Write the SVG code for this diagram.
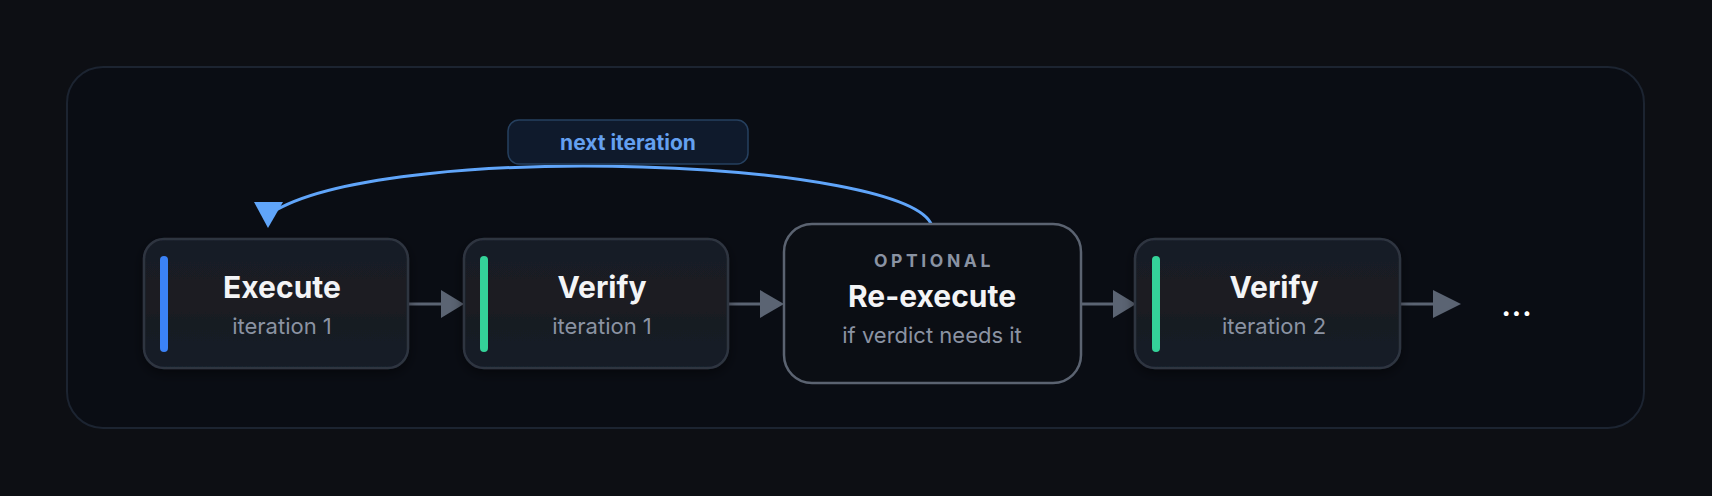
<svg xmlns="http://www.w3.org/2000/svg" width="1712" height="496" viewBox="0 0 1712 496">
  <defs>
    <linearGradient id="nodeFill" x1="0" y1="0" x2="0" y2="1">
      <stop offset="0" stop-color="#181d27"/>
      <stop offset="0.5" stop-color="#1b1a22"/>
      <stop offset="1" stop-color="#131a27"/>
    </linearGradient>
    <filter id="shadow" x="-20%" y="-20%" width="140%" height="150%">
      <feDropShadow dx="0" dy="4" stdDeviation="6" flood-color="#000000" flood-opacity="0.45"/>
    </filter>
  </defs>
  <style>
    .card { fill: url(#nodeFill); stroke: #2f3541; stroke-width: 2.5; filter: url(#shadow); }
    .opt { fill: #0b0e14; stroke: #5b6371; stroke-width: 2.5; }
    .title { font-family: Inter, "Noto Sans", sans-serif; font-weight: 700; font-size: 30px; fill: #f3f4f6; text-anchor: middle; }
    .sub { font-family: Inter, "Noto Sans", sans-serif; font-weight: 400; font-size: 22px; fill: #8b93a3; text-anchor: middle; }
    .tag { font-family: Inter, "Noto Sans", sans-serif; font-weight: 700; font-size: 17.5px; fill: #8a93a3; text-anchor: middle; letter-spacing: 3.6px; }
    .flow { stroke: #5b6473; stroke-width: 3; fill: none; }
    .head { fill: #5b6473; }
    .loop { stroke: #60a5fa; stroke-width: 3; fill: none; stroke-linecap: round; }
    .pill { fill: #0f1a2c; stroke: #26405f; stroke-width: 1.5; }
    .pilltext { font-family: Inter, "Noto Sans", sans-serif; font-weight: 700; font-size: 21px; fill: #64a0f0; text-anchor: middle; }
  </style>
  <rect x="0" y="0" width="1712" height="496" fill="#0d0f14"/>
  <rect id="container" x="67" y="67" width="1577" height="361" rx="36" fill="#0a0d14" stroke="#1c2431" stroke-width="2"/>

  <g id="connectors">
    <line class="flow" x1="408" y1="304" x2="443" y2="304"/>
    <polygon class="head" points="441,290 464,304 441,318"/>
    <line class="flow" x1="728" y1="304" x2="762" y2="304"/>
    <polygon class="head" points="760,290 784,304 760,318"/>
    <line class="flow" x1="1081" y1="304" x2="1115" y2="304"/>
    <polygon class="head" points="1113,290 1136,304 1113,318"/>
    <line class="flow" x1="1400" y1="304" x2="1435" y2="304"/>
    <polygon class="head" points="1433,290 1461,304 1433,318"/>
    <path class="loop" d="M 932 226 C 910 160, 400 140, 276 210"/>
    <polygon fill="#60a5fa" points="254,202 283,202 268,228"/>
  </g>

  <g id="label-next-iteration">
    <rect class="pill" x="508" y="120" width="240" height="44" rx="11"/>
    <text class="pilltext" x="628" y="150">next iteration</text>
  </g>

  <g id="node-execute-1">
    <rect class="card" x="144" y="239" width="264" height="129" rx="20"/>
    <rect x="160" y="256" width="8" height="96" rx="4" fill="#3b82f6"/>
    <text class="title" x="282" y="298">Execute</text>
    <text class="sub" x="282" y="334">iteration 1</text>
  </g>

  <g id="node-verify-1">
    <rect class="card" x="464" y="239" width="264" height="129" rx="20"/>
    <rect x="480" y="256" width="8" height="96" rx="4" fill="#34d399"/>
    <text class="title" x="602" y="298">Verify</text>
    <text class="sub" x="602" y="334">iteration 1</text>
  </g>

  <g id="node-reexecute">
    <rect class="opt" x="784" y="224" width="297" height="159" rx="28"/>
    <text class="tag" x="934" y="267">OPTIONAL</text>
    <text class="title" x="932" y="307">Re-execute</text>
    <text class="sub" x="932" y="343">if verdict needs it</text>
  </g>

  <g id="node-verify-2">
    <rect class="card" x="1135" y="239" width="265" height="129" rx="20"/>
    <rect x="1152" y="256" width="8" height="96" rx="4" fill="#34d399"/>
    <text class="title" x="1274" y="298">Verify</text>
    <text class="sub" x="1274" y="334">iteration 2</text>
  </g>

  <g id="node-more">
    <text x="1517" y="316" font-family="Inter, 'Noto Sans', sans-serif" font-weight="700" font-size="28" fill="#ffffff" text-anchor="middle" letter-spacing="1">...</text>
  </g>
</svg>
